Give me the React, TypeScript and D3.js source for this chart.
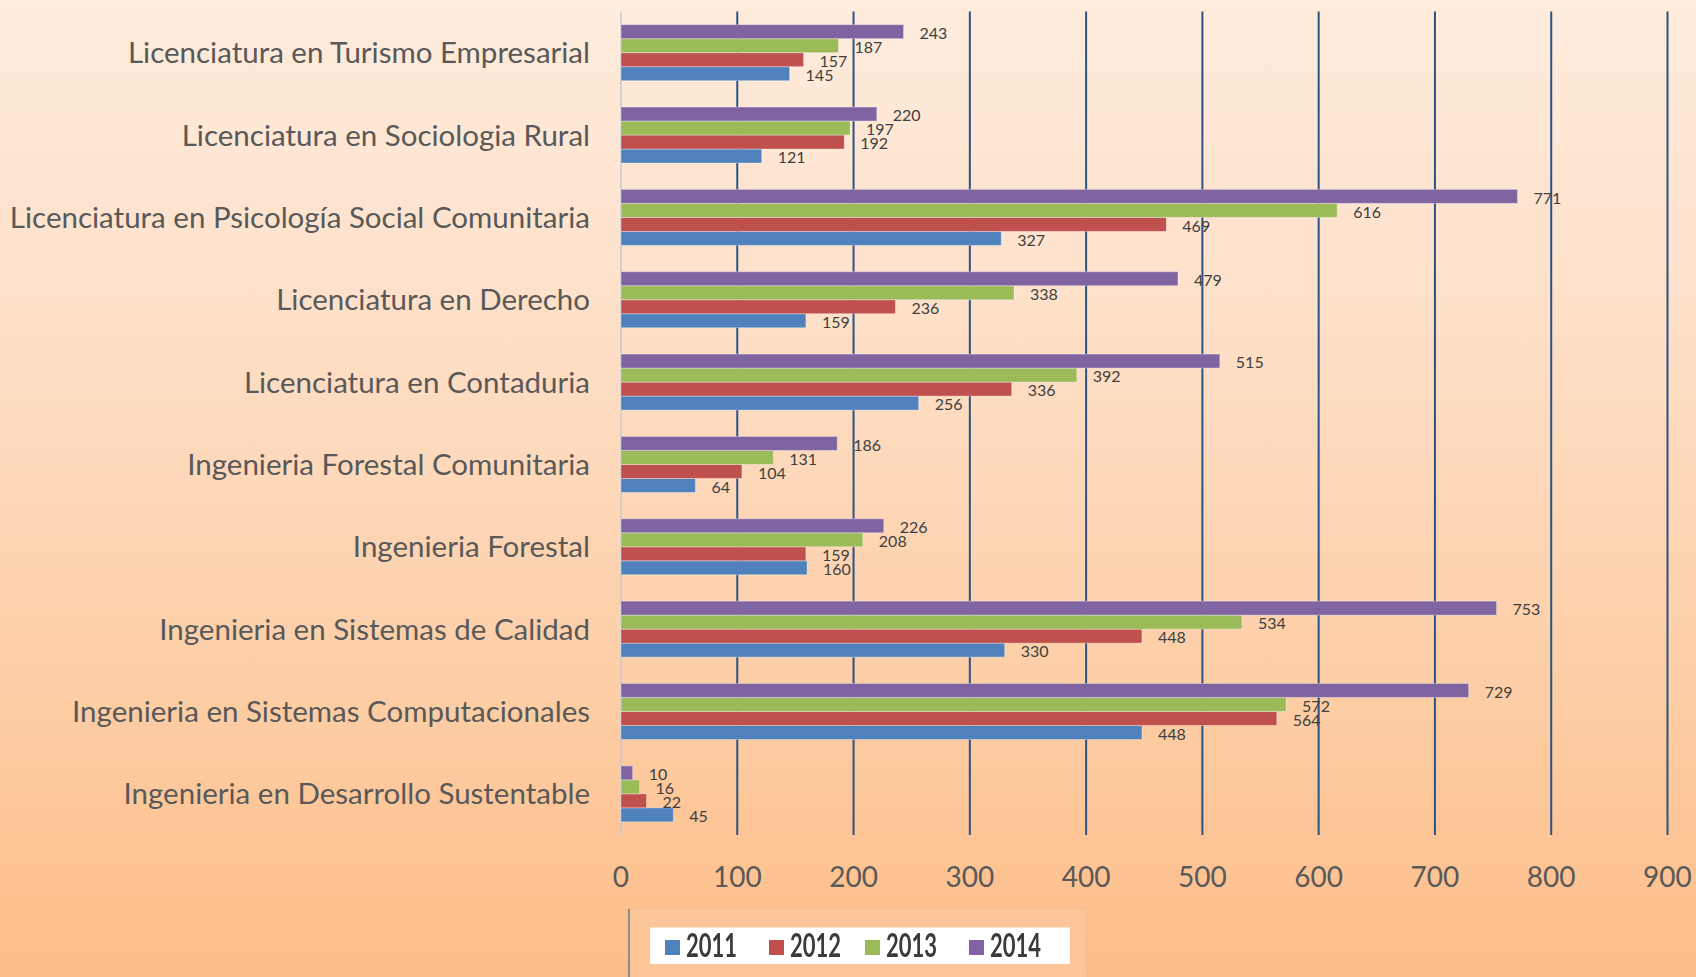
import React from "react";
import * as d3 from "d3";

const categories: string[] = [
  "Licenciatura en Turismo Empresarial",
  "Licenciatura en Sociologia Rural",
  "Licenciatura en Psicología Social Comunitaria",
  "Licenciatura en Derecho",
  "Licenciatura en Contaduria",
  "Ingenieria Forestal Comunitaria",
  "Ingenieria Forestal",
  "Ingenieria en Sistemas de Calidad",
  "Ingenieria en Sistemas Computacionales",
  "Ingenieria en Desarrollo Sustentable",
];

const years: string[] = ["2011", "2012", "2013", "2014"];

const values2011: number[] = [145, 121, 327, 159, 256, 64, 160, 330, 448, 45];
const values2012: number[] = [157, 192, 469, 236, 336, 104, 159, 448, 564, 22];
const values2013: number[] = [187, 197, 616, 338, 392, 131, 208, 534, 572, 16];
const values2014: number[] = [243, 220, 771, 479, 515, 186, 226, 753, 729, 10];

const seriesColors: string[] = ["#4F81BD", "#C0504D", "#9BBB59", "#8064A2"];
const xTicks: number[] = [0, 100, 200, 300, 400, 500, 600, 700, 800, 900];

const W = 1696;
const H = 977;

export default function App() {
  const seriesValues = [values2011, values2012, values2013, values2014];
  const x = d3.scaleLinear().domain([0, 900]).range([621, 1667.5]);
  const y = d3
    .scaleBand<string>()
    .domain(categories)
    .range([11.5, 835])
    .paddingInner(0.32)
    .paddingOuter(0.16);
  // top to bottom within a group: 2014, 2013, 2012, 2011
  const inner = d3
    .scaleBand<string>()
    .domain([...years].reverse())
    .range([0, y.bandwidth()])
    .padding(0);

  const font = "Lato, 'Open Sans', sans-serif";
  const labelColor = "#595959";

  const legendX = [665, 769, 865, 969];

  return (
    <svg
      width={W}
      height={H}
      style={{ position: "fixed", left: 0, top: 0, display: "block" }}
      xmlns="http://www.w3.org/2000/svg"
    >
      <defs>
        <linearGradient id="bg" x1="0" y1="0" x2="0" y2="1">
          <stop offset="0" stopColor="#FEECDD" />
          <stop offset="0.3" stopColor="#FEE1CA" />
          <stop offset="0.7" stopColor="#FDCEA6" />
          <stop offset="1" stopColor="#FDBD88" />
        </linearGradient>
        <filter id="blur" x="-5%" y="-20%" width="110%" height="140%">
          <feGaussianBlur stdDeviation="0.7" />
        </filter>
      </defs>
      <rect x={0} y={0} width={W} height={H} fill="url(#bg)" />

      {/* gridlines */}
      {xTicks.slice(1).map((t) => (
        <line
          key={"g" + t}
          x1={x(t)}
          x2={x(t)}
          y1={y.range()[0]}
          y2={y.range()[1]}
          stroke="#2C5284"
          strokeWidth={2}
        />
      ))}
      {/* axis line */}
      <line
        x1={x(0)}
        x2={x(0)}
        y1={y.range()[0]}
        y2={y.range()[1]}
        stroke="#C4CAD6"
        strokeWidth={1.5}
      />

      {/* bars */}
      {categories.map((c, ci) => (
        <g key={c} transform={`translate(0,${y(c)})`}>
          {years.map((yr, si) => (
            <rect
              key={yr}
              x={x(0)}
              y={inner(yr)}
              width={x(seriesValues[si][ci]) - x(0)}
              height={inner.bandwidth()}
              fill={seriesColors[si]}
              stroke="rgba(255,255,255,0.35)"
              strokeWidth={1}
            />
          ))}
        </g>
      ))}

      {/* data labels */}
      {categories.map((c, ci) => (
        <g key={"l" + c} transform={`translate(0,${y(c)})`}>
          {years.map((yr, si) => (
            <text
              key={yr}
              x={x(seriesValues[si][ci]) + 16}
              y={(inner(yr) as number) + inner.bandwidth() / 2 + 1.5 + 5.7}
              fontFamily={font}
              fontSize={16}
              fill="#404040"
            >
              {seriesValues[si][ci]}
            </text>
          ))}
        </g>
      ))}

      {/* category labels */}
      {categories.map((c) => (
        <text
          key={"c" + c}
          transform={`translate(590,${(y(c) as number) + y.bandwidth() / 2 + 10.6})`}
          textAnchor="end"
          fontFamily={font}
          fontSize={29.5}
          fill={labelColor}
        >
          {c}
        </text>
      ))}

      {/* x tick labels */}
      {xTicks.map((t) => (
        <text
          key={"t" + t}
          transform={`translate(${x(t)},887) scale(0.95,1)`}
          textAnchor="middle"
          fontFamily={font}
          fontSize={29.5}
          fill={labelColor}
        >
          {t}
        </text>
      ))}

      {/* legend */}
      <rect x={628} y={909} width={459} height={80} fill="#FDC698" stroke="#F4BC8C" strokeWidth={1} />
      <line x1={629} x2={629} y1={909} y2={977} stroke="#8C8C8C" strokeWidth={2} />
      <g filter="url(#blur)">
        <rect x={650} y={927.5} width={420} height={36.5} fill="#FFFFFF" />
        {years.map((yr, si) => (
          <g key={"lg" + yr}>
            <rect x={legendX[si]} y={940} width={15} height={15} fill={seriesColors[si]} />
            <text
              transform={`translate(${legendX[si] + 21},956.5) scale(1,1.45)`}
              fontFamily={font}
              fontSize={22}
              fontWeight={700}
              fill="#3A3A3A"
            >
              {yr}
            </text>
          </g>
        ))}
      </g>
    </svg>
  );
}
